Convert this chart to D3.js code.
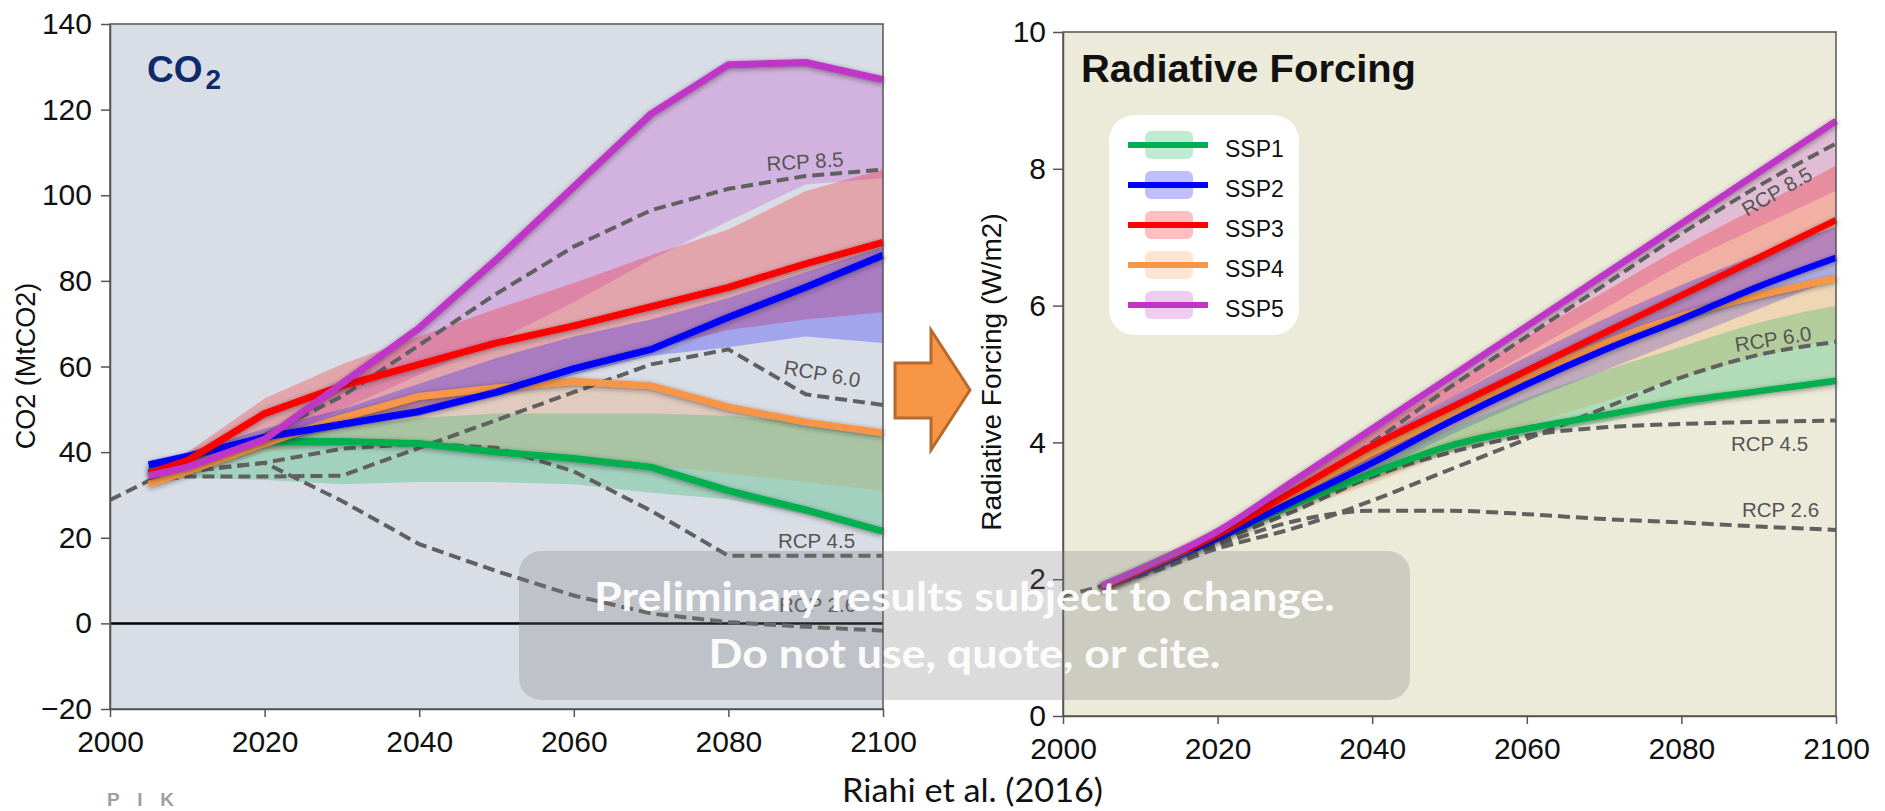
<!DOCTYPE html>
<html>
<head>
<meta charset="utf-8">
<script src="https://cdn.jsdelivr.net/npm/d3@7"></script>
<style>
  body { margin: 0; background: #fff; }
  svg { display: block; }
</style>
</head>
<body>
<svg id="fig" width="1885" height="811"></svg>
<script>
// ---------- data ----------
const years = [2005, 2010, 2020, 2030, 2040, 2050, 2060, 2070, 2080, 2090, 2100];
const histYears = [2000, 2005];
const tickYears = [2000, 2020, 2040, 2060, 2080, 2100];
const co2Ticks = [-20, 0, 20, 40, 60, 80, 100, 120, 140];
const rfTicks = [0, 2, 4, 6, 8, 10];

const scenarios = ["SSP1", "SSP2", "SSP3", "SSP4", "SSP5"];
const scenarioColors = ["#00b050", "#0000ff", "#ff0000", "#f79646", "#bf35c8"];

// CO2 emissions: median pathways
const co2Ssp1 = [35.5, 37.5, 42.5, 42.5, 42, 40, 38.5, 36.5, 31, 26.5, 21.5];
const co2Ssp2 = [37, 39, 43.5, 46.5, 49.5, 54, 59.5, 64, 71.5, 78.5, 86];
const co2Ssp3 = [35, 38, 49, 55.5, 60.5, 65.5, 69.5, 74, 78.5, 84, 89];
const co2Ssp4 = [32.5, 35.5, 42, 48, 53, 55, 56.5, 55.5, 50.5, 47, 44.5];
const co2Ssp5 = [34.5, 36.5, 43, 56, 69, 85, 102, 119, 130.5, 131, 127];
// CO2 emissions: scenario ranges
const co2Ssp1Lo = [34, 34, 33.5, 32.5, 33, 33, 32.5, 30.5, 29, 25.5, 22];
const co2Ssp1Hi = [36.5, 38.5, 43.5, 46, 48, 49, 49, 49, 48.5, 47, 45];
const co2Ssp2Lo = [36.5, 38, 42, 45.5, 48.5, 53, 58, 62.5, 64.5, 67, 65.5];
const co2Ssp2Hi = [38, 40, 45.5, 50, 56, 62, 67, 71, 76, 82, 88];
const co2Ssp3Lo = [35, 37, 44, 47, 50, 55, 60.5, 64, 68.5, 71, 72.7];
const co2Ssp3Hi = [36, 40, 52.5, 60.5, 67, 73.5, 79.5, 86, 92, 101, 106];
const co2Ssp4Lo = [32, 34, 40, 42, 42, 40, 38.5, 37, 35, 33, 31];
const co2Ssp4Hi = [33.5, 36.5, 43, 49, 54, 56, 57.5, 56, 51, 47.5, 45];
const co2Ssp5Lo = [34, 36, 42, 50, 58, 66, 75, 85, 94, 102.5, 104];
const co2Ssp5Hi = [35, 37, 43.5, 56.5, 69.5, 85.5, 102.5, 119.5, 131, 131.5, 127.5];
// CO2 emissions: history and RCP pathways
const co2Hist = [28.8, 33.3];
const co2Rcp26 = [33.3, 35.5, 37.5, 28.6, 18.5, 12.2, 6.5, 2.3, 0.3, -0.8, -1.7];
const co2Rcp45 = [33.3, 35.5, 37.5, 40.8, 42, 41, 35.5, 26.3, 15.8, 15.8, 15.8];
const co2Rcp60 = [33.3, 34.3, 34.3, 34.5, 41, 47.5, 54, 60.5, 64, 53.5, 51];
const co2Rcp85 = [33.3, 36, 44, 53, 65, 77, 88, 96.5, 101.5, 104.5, 106];

// Radiative forcing: median pathways
const rfSsp1 = [1.88, 2.1, 2.6, 3.1, 3.55, 3.95, 4.2, 4.4, 4.6, 4.75, 4.9];
const rfSsp2 = [1.88, 2.1, 2.6, 3.15, 3.7, 4.3, 4.85, 5.35, 5.8, 6.28, 6.7];
const rfSsp3 = [1.88, 2.12, 2.65, 3.3, 3.95, 4.5, 5.05, 5.6, 6.15, 6.7, 7.25];
const rfSsp4 = [1.88, 2.12, 2.65, 3.25, 3.85, 4.4, 4.95, 5.45, 5.85, 6.15, 6.4];
const rfSsp5 = [1.9, 2.15, 2.7, 3.45, 4.2, 4.95, 5.7, 6.45, 7.2, 7.95, 8.7];
// Radiative forcing: scenario ranges
const rfSsp1Lo = [1.85, 2.05, 2.55, 3.05, 3.45, 3.85, 4.1, 4.3, 4.5, 4.7, 4.85];
const rfSsp1Hi = [1.92, 2.15, 2.68, 3.2, 3.7, 4.2, 4.65, 5.05, 5.4, 5.75, 6.0];
const rfSsp2Lo = [1.85, 2.05, 2.55, 3.05, 3.55, 4.1, 4.6, 5.05, 5.5, 5.95, 6.4];
const rfSsp2Hi = [1.95, 2.2, 2.7, 3.35, 4.0, 4.65, 5.25, 5.8, 6.3, 6.75, 7.15];
const rfSsp3Lo = [1.85, 2.05, 2.6, 3.2, 3.75, 4.3, 4.8, 5.3, 5.8, 6.3, 6.75];
const rfSsp3Hi = [1.95, 2.2, 2.75, 3.45, 4.15, 4.85, 5.55, 6.2, 6.85, 7.45, 8.05];
const rfSsp4Lo = [1.85, 2.05, 2.55, 3.0, 3.4, 3.85, 4.25, 4.6, 4.95, 5.25, 5.5];
const rfSsp4Hi = [1.92, 2.15, 2.68, 3.28, 3.88, 4.43, 4.98, 5.5, 5.9, 6.2, 6.45];
const rfSsp5Lo = [1.85, 2.1, 2.65, 3.3, 4.0, 4.65, 5.3, 5.95, 6.6, 7.15, 7.68];
const rfSsp5Hi = [1.92, 2.18, 2.75, 3.5, 4.25, 5.0, 5.75, 6.5, 7.25, 8.0, 8.72];
// Radiative forcing: history and RCP pathways
const rfHist = [1.75, 1.9];
const rfRcp26 = [1.9, 2.1, 2.5, 2.85, 3.0, 3.0, 2.95, 2.88, 2.83, 2.77, 2.72];
const rfRcp45 = [1.9, 2.1, 2.55, 3.0, 3.5, 3.85, 4.1, 4.22, 4.27, 4.3, 4.32];
const rfRcp60 = [1.9, 2.05, 2.45, 2.75, 3.15, 3.6, 4.05, 4.5, 4.95, 5.28, 5.47];
const rfRcp85 = [1.9, 2.1, 2.6, 3.25, 4.0, 4.8, 5.55, 6.3, 7.05, 7.75, 8.37];

const rcpNames = ["RCP 2.6", "RCP 4.5", "RCP 6.0", "RCP 8.5"];

// ---------- drawing ----------
const svg = d3.select("#fig");
const defs = svg.append("defs");
defs.append("filter").attr("id", "lineShadow")
  .attr("x", "-10%").attr("y", "-40%").attr("width", "120%").attr("height", "180%")
  .append("feDropShadow")
  .attr("dx", 0).attr("dy", 1.5).attr("stdDeviation", 2.5)
  .attr("flood-color", "#222").attr("flood-opacity", 0.5);

const bandOrder = [4, 2, 1, 3, 0];   // SSP5, SSP3, SSP2, SSP4, SSP1
const lineOrder = [0, 3, 1, 2, 4];   // SSP1, SSP4, SSP2, SSP3, SSP5
const axisFont = "'Liberation Sans', Arial, sans-serif";

function drawPanel(cfg) {
  const g = svg.append("g");
  const x = d3.scaleLinear([2000, 2100], cfg.xRange);
  const y = d3.scaleLinear(cfg.yDomain, cfg.yRange);
  const [x0, x1] = cfg.xRange;
  const [yb, yt] = cfg.yRange;

  g.append("rect").attr("x", x0).attr("y", yt)
    .attr("width", x1 - x0).attr("height", yb - yt).attr("fill", cfg.bg);

  // scenario ranges
  const area = d3.area()
    .x((d, i) => x(years[i])).y0(d => y(d[0])).y1(d => y(d[1]))
    .curve(cfg.curve);
  bandOrder.forEach(k => {
    const band = cfg.lo[k].map((v, i) => [v, cfg.hi[k][i]]);
    g.append("path").attr("d", area(band))
      .attr("fill", scenarioColors[k]).attr("fill-opacity", 0.25);
  });

  if (cfg.zeroLine) {
    g.append("line").attr("x1", x0).attr("x2", x1)
      .attr("y1", y(0)).attr("y2", y(0))
      .attr("stroke", "#000").attr("stroke-width", 2.5);
  }

  // RCP reference pathways
  const line = d3.line().x((d, i) => x(years[i])).y(d => y(d)).curve(cfg.curve);
  const histLine = d3.line().x((d, i) => x(histYears[i])).y(d => y(d));
  const dashStyle = sel => sel.attr("fill", "none").attr("stroke", "#606060")
    .attr("stroke-width", 4).attr("stroke-dasharray", "12,6");
  g.append("path").attr("d", histLine(cfg.hist)).call(dashStyle);
  cfg.rcp.forEach(r => g.append("path").attr("d", line(r)).call(dashStyle));

  // median pathways
  lineOrder.forEach(k => {
    g.append("path").attr("d", line(cfg.mid[k]))
      .attr("fill", "none").attr("stroke", scenarioColors[k])
      .attr("stroke-width", cfg.lineWidth).attr("stroke-linejoin", "round")
      .attr("filter", "url(#lineShadow)");
  });

  // RCP labels
  cfg.rcpLabels.forEach((lab, i) => {
    g.append("text").text(rcpNames[i])
      .attr("transform", `translate(${lab[0]},${lab[1]}) rotate(${lab[2]})`)
      .attr("font-family", axisFont).attr("font-size", 20.5)
      .attr("fill", "#555");
  });

  // frame
  g.append("rect").attr("x", x0).attr("y", yt)
    .attr("width", x1 - x0).attr("height", yb - yt)
    .attr("fill", "none").attr("stroke", "#555").attr("stroke-width", 1.5);

  const yAxis = g.append("g").attr("transform", `translate(${x0},0)`)
    .call(d3.axisLeft(y).tickValues(cfg.yTicks).tickSize(cfg.yTickSize)
      .tickSizeOuter(0).tickPadding(cfg.yTickPad).tickFormat(d3.format("d")));
  const xAxis = g.append("g").attr("transform", `translate(0,${yb})`)
    .call(d3.axisBottom(x).tickValues(tickYears).tickSize(8)
      .tickSizeOuter(0).tickPadding(14).tickFormat(d3.format("d")));
  [yAxis, xAxis].forEach(a => {
    a.selectAll("path, line").attr("stroke", "#555").attr("stroke-width", 1.5);
    a.selectAll("text").attr("font-family", axisFont).attr("font-size", 30).attr("fill", "#111");
  });

  g.append("text").text(cfg.yLabel)
    .attr("transform", `translate(${cfg.yLabelPos[0]},${cfg.yLabelPos[1]}) rotate(-90)`)
    .attr("text-anchor", "middle").attr("font-family", axisFont)
    .attr("font-size", cfg.yLabelSize).attr("fill", "#111");
  return { g, x, y };
}

// left panel: CO2
const left = drawPanel({
  xRange: [110, 883], yDomain: [-20, 140], yRange: [709, 24],
  bg: "#d9dde6", curve: d3.curveLinear, lineWidth: 7, zeroLine: true,
  mid: [co2Ssp1, co2Ssp2, co2Ssp3, co2Ssp4, co2Ssp5],
  lo: [co2Ssp1Lo, co2Ssp2Lo, co2Ssp3Lo, co2Ssp4Lo, co2Ssp5Lo],
  hi: [co2Ssp1Hi, co2Ssp2Hi, co2Ssp3Hi, co2Ssp4Hi, co2Ssp5Hi],
  hist: co2Hist, rcp: [co2Rcp26, co2Rcp45, co2Rcp60, co2Rcp85],
  rcpLabels: [[779, 612, 0], [778, 548, 0], [783, 374, 10], [767, 171, -3.5]],
  yTicks: co2Ticks, yTickSize: 9, yTickPad: 9,
  yLabel: "CO2 (MtCO2)", yLabelPos: [35, 366], yLabelSize: 27
});

left.g.append("text")
  .attr("x", 147).attr("y", 82)
  .attr("font-family", axisFont).attr("font-weight", "bold")
  .attr("font-size", 37).attr("fill", "#0d2b6b")
  .call(t => {
    t.append("tspan").text("CO");
    t.append("tspan").text("2").attr("dx", 3).attr("dy", 7).attr("font-size", 28);
  });

// right panel: radiative forcing
const right = drawPanel({
  xRange: [1063, 1836], yDomain: [0, 10], yRange: [716, 32],
  bg: "#ecebda", curve: d3.curveMonotoneX, lineWidth: 6.5, zeroLine: false,
  mid: [rfSsp1, rfSsp2, rfSsp3, rfSsp4, rfSsp5],
  lo: [rfSsp1Lo, rfSsp2Lo, rfSsp3Lo, rfSsp4Lo, rfSsp5Lo],
  hi: [rfSsp1Hi, rfSsp2Hi, rfSsp3Hi, rfSsp4Hi, rfSsp5Hi],
  hist: rfHist, rcp: [rfRcp26, rfRcp45, rfRcp60, rfRcp85],
  rcpLabels: [[1742, 517, 0], [1731, 451, 0], [1736, 352, -8.8], [1747, 217, -30]],
  yTicks: rfTicks, yTickSize: 10, yTickPad: 7,
  yLabel: "Radiative Forcing (W/m2)", yLabelPos: [1001, 372], yLabelSize: 28
});

right.g.append("text").text("Radiative Forcing")
  .attr("x", 1081).attr("y", 82)
  .attr("font-family", axisFont).attr("font-weight", "bold")
  .attr("font-size", 38).attr("fill", "#111")
  .attr("textLength", 335).attr("lengthAdjust", "spacingAndGlyphs");

// legend
const legend = right.g.append("g");
legend.append("rect").attr("x", 1109).attr("y", 115)
  .attr("width", 190).attr("height", 220).attr("rx", 26).attr("fill", "#fff");
scenarios.forEach((name, i) => {
  const cy = 145 + i * 40;
  legend.append("rect").attr("x", 1145).attr("y", cy - 14)
    .attr("width", 48).attr("height", 28).attr("rx", 6)
    .attr("fill", scenarioColors[i]).attr("fill-opacity", 0.25);
  legend.append("line").attr("x1", 1128).attr("x2", 1208)
    .attr("y1", cy).attr("y2", cy)
    .attr("stroke", scenarioColors[i]).attr("stroke-width", 6);
  legend.append("text").text(name).attr("x", 1225).attr("y", cy + 12)
    .attr("font-family", axisFont).attr("font-size", 23).attr("fill", "#111");
});

// arrow between the panels
svg.append("polygon")
  .attr("points", "895,363 931,363 931,330 970,390 931,450 931,418 895,418")
  .attr("fill", "#f79646").attr("stroke", "#b8692d").attr("stroke-width", 3)
  .attr("stroke-linejoin", "miter");

// footer
svg.append("text").text("Riahi et al. (2016)")
  .attr("x", 842).attr("y", 802)
  .attr("font-family", "Lato, 'Open Sans', sans-serif").attr("font-size", 32)
  .attr("fill", "#111").attr("textLength", 261).attr("lengthAdjust", "spacingAndGlyphs");
svg.append("text").text("P I K")
  .attr("x", 107).attr("y", 806)
  .attr("font-family", axisFont).attr("font-weight", "bold").attr("font-size", 19)
  .attr("fill", "#a0a0a0").attr("textLength", 67).attr("lengthAdjust", "spacing");

// notice overlay
const notice = svg.append("g");
notice.append("rect").attr("x", 519).attr("y", 551)
  .attr("width", 891).attr("height", 149).attr("rx", 22)
  .attr("fill", "#7f7f7f").attr("fill-opacity", 0.28);
[["Preliminary results subject to change.", 611, 741],
 ["Do not use, quote, or cite.", 668, 512]].forEach(([txt, yy, len]) => {
  notice.append("text").text(txt)
    .attr("x", 964.5).attr("y", yy).attr("text-anchor", "middle")
    .attr("font-family", "Lato, 'Open Sans', sans-serif").attr("font-weight", "bold")
    .attr("font-size", 40).attr("fill", "#fff").attr("fill-opacity", 0.95)
    .attr("textLength", len).attr("lengthAdjust", "spacingAndGlyphs");
});
</script>
</body>
</html>
